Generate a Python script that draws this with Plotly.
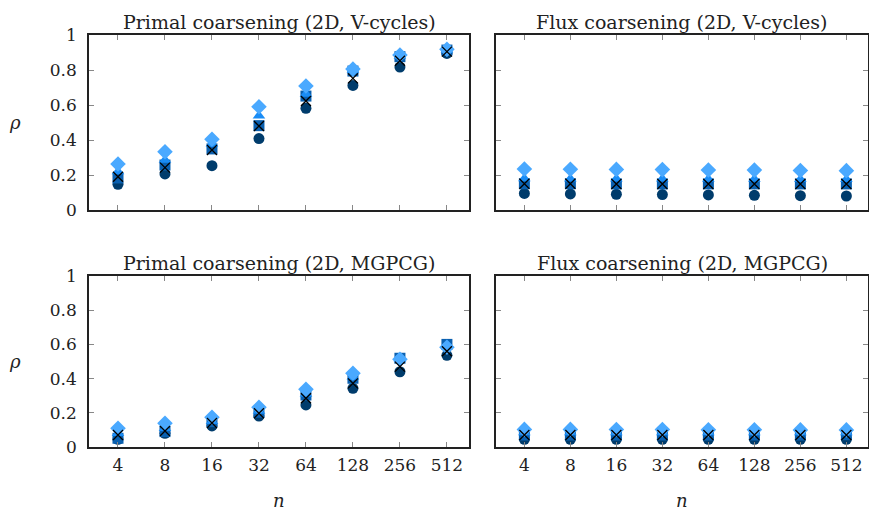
import plotly.graph_objects as go

n_labels = ["4", "8", "16", "32", "64", "128", "256", "512"]

# Primal coarsening, V-cycles
pv_circle = [0.147, 0.206, 0.253, 0.408, 0.581, 0.712, 0.817, 0.895]
pv_square = [0.183, 0.257, 0.349, 0.482, 0.651, 0.794, 0.876, 0.914]
pv_tri = [0.22, 0.286, 0.377, 0.539, 0.663, 0.800, 0.880, 0.915]
pv_diam = [0.263, 0.333, 0.404, 0.590, 0.709, 0.806, 0.886, 0.918]
pv_x = [0.19, 0.242, 0.343, 0.48, 0.623, 0.752, 0.853, 0.905]

# Flux coarsening, V-cycles
fv_circle = [0.095, 0.092, 0.09, 0.088, 0.086, 0.084, 0.082, 0.080]
fv_square = [0.150, 0.150, 0.149, 0.149, 0.149, 0.149, 0.149, 0.149]
fv_tri = [0.180, 0.179, 0.178, 0.178, 0.177, 0.177, 0.176, 0.176]
fv_diam = [0.234, 0.233, 0.232, 0.231, 0.229, 0.228, 0.226, 0.225]
fv_x = [0.150, 0.150, 0.149, 0.149, 0.149, 0.149, 0.149, 0.149]

# Primal coarsening, MGPCG
pm_circle = [0.045, 0.080, 0.123, 0.181, 0.246, 0.343, 0.440, 0.536]
pm_square = [0.051, 0.090, 0.148, 0.203, 0.304, 0.402, 0.519, 0.600]
pm_tri = [0.080, 0.110, 0.150, 0.210, 0.310, 0.410, 0.515, 0.590]
pm_diam = [0.109, 0.139, 0.174, 0.232, 0.337, 0.431, 0.513, 0.583]
pm_x = [0.070, 0.094, 0.140, 0.197, 0.285, 0.372, 0.470, 0.560]

# Flux coarsening, MGPCG
fm_circle = [0.045, 0.045, 0.045, 0.045, 0.045, 0.045, 0.045, 0.045]
fm_square = [0.070, 0.070, 0.070, 0.070, 0.070, 0.070, 0.070, 0.072]
fm_tri = [0.085, 0.085, 0.085, 0.085, 0.085, 0.085, 0.085, 0.085]
fm_diam = [0.103, 0.103, 0.102, 0.102, 0.101, 0.101, 0.100, 0.100]
fm_x = [0.070, 0.070, 0.070, 0.070, 0.070, 0.070, 0.070, 0.070]

panels = [
    ("Primal coarsening (2D, V-cycles)", pv_circle, pv_square, pv_tri, pv_diam, pv_x),
    ("Flux coarsening (2D, V-cycles)", fv_circle, fv_square, fv_tri, fv_diam, fv_x),
    ("Primal coarsening (2D, MGPCG)", pm_circle, pm_square, pm_tri, pm_diam, pm_x),
    ("Flux coarsening (2D, MGPCG)", fm_circle, fm_square, fm_tri, fm_diam, fm_x),
]

W, H = 869, 513
xdoms = [[89 / W, 469 / W], [496 / W, 868 / W]]
ydoms = [[1 - 210 / H, 1 - 35 / H], [1 - 447 / H, 1 - 276 / H]]

C_CIRC = "#003c6c"
C_SQ = "#0a60b0"
C_TRI = "#1a8cf5"
C_DIAM = "#4aa9ff"
C_X = "#000000"

FONT = "DejaVu Serif"
TXT = "#222222"

fig = go.Figure()
xs = list(range(len(n_labels)))

for i, (title, circ, sq, tri, diam, xx) in enumerate(panels):
    r, c = divmod(i, 2)
    ax = "" if i == 0 else str(i + 1)
    xa, ya = "x" + ax, "y" + ax
    specs = [
        (circ, "circle", C_CIRC, 11),
        (sq, "square", C_SQ, 11),
        (tri, "triangle-up", C_TRI, 11),
        (diam, "diamond", C_DIAM, 12),
    ]
    for vals, sym, col, sz in specs:
        fig.add_trace(go.Scatter(x=xs, y=vals, mode="markers", xaxis=xa, yaxis=ya,
                                 marker=dict(symbol=sym, color=col, size=sz, line=dict(width=0)),
                                 showlegend=False, hoverinfo="skip"))
    fig.add_trace(go.Scatter(x=xs, y=xx, mode="markers", xaxis=xa, yaxis=ya,
                             marker=dict(symbol="x-thin", size=10, line=dict(width=1.3, color=C_X)),
                             showlegend=False, hoverinfo="skip"))

    xkey = "xaxis" + ax
    ykey = "yaxis" + ax
    fig.layout[xkey] = dict(
        domain=xdoms[c], anchor=ya, range=[-0.617, 7.47], automargin=False,
        tickvals=xs, ticktext=n_labels, showticklabels=(r == 1),
        ticks="inside", ticklen=5, tickwidth=1, tickcolor="#888888",
        showline=True, linecolor="#222222", linewidth=1.5, mirror="ticks",
        showgrid=False, zeroline=False, ticklabelstandoff=2,
        tickfont=dict(family=FONT, size=17, color=TXT),
    )
    fig.layout[ykey] = dict(
        domain=ydoms[r], anchor=xa, range=[0, 1], automargin=False,
        tickvals=[0, 0.2, 0.4, 0.6, 0.8, 1], ticktext=["0", "0.2", "0.4", "0.6", "0.8", "1"],
        showticklabels=(c == 0),
        ticks="inside", ticklen=5, tickwidth=1, tickcolor="#888888",
        showline=True, linecolor="#222222", linewidth=1.5, mirror="ticks",
        showgrid=False, zeroline=False, ticklabelstandoff=7,
        tickfont=dict(family=FONT, size=17, color=TXT),
    )
    xc = (xdoms[c][0] + xdoms[c][1]) / 2
    fig.add_annotation(text=title, x=xc, y=ydoms[r][1], xref="paper", yref="paper",
                       xanchor="center", yanchor="bottom", yshift=0, showarrow=False,
                       font=dict(family=FONT, size=19, color=TXT))

for yd in ydoms:
    fig.add_annotation(text="<i>ρ</i>", x=15 / W, y=(yd[0] + yd[1]) / 2, xref="paper", yref="paper",
                       xanchor="center", yanchor="middle", showarrow=False,
                       font=dict(family=FONT, size=18, color=TXT))
for xd in xdoms:
    fig.add_annotation(text="<i>n</i>", x=(xd[0] + xd[1]) / 2, y=1 - 500 / H, xref="paper", yref="paper",
                       xanchor="center", yanchor="middle", showarrow=False,
                       font=dict(family=FONT, size=18, color=TXT))

fig.update_layout(width=W, height=H, margin=dict(l=0, r=0, t=0, b=0, autoexpand=False),
                  paper_bgcolor="white", plot_bgcolor="white", showlegend=False)

fig.write_html("out.html", config={"displayModeBar": False},
               post_script="document.body.style.margin='0';document.body.style.overflow='hidden';")
